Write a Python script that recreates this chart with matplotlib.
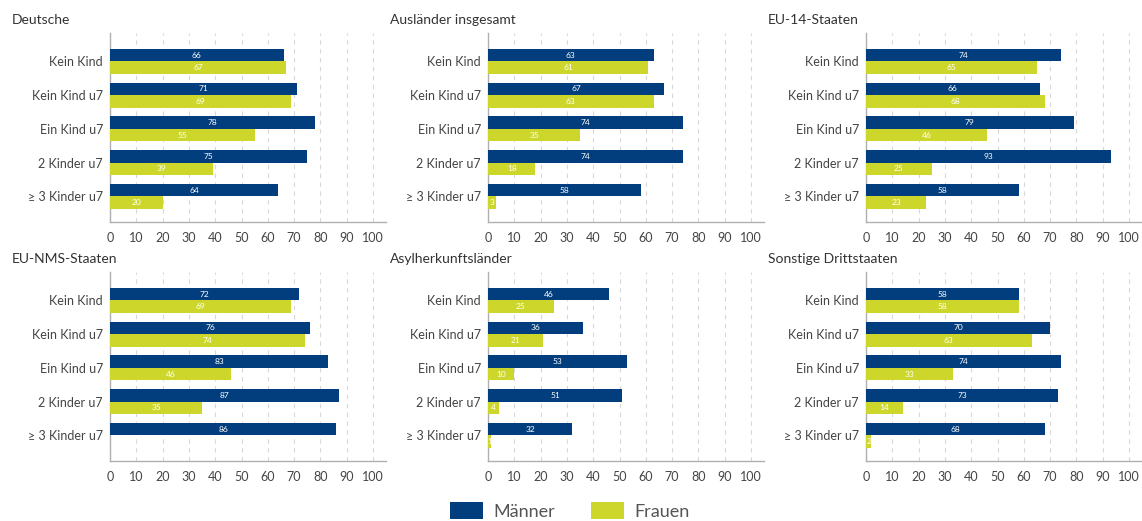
import numpy as np
import matplotlib.pyplot as plt
from matplotlib.patches import Patch

plt.rcParams['font.family'] = ['Lato', 'DejaVu Sans']

categories = ['Kein Kind', 'Kein Kind u7', 'Ein Kind u7', '2 Kinder u7', '\u2265 3 Kinder u7']
panels = ['Deutsche', 'Ausländer insgesamt', 'EU-14-Staaten',
          'EU-NMS-Staaten', 'Asylherkunftsländer', 'Sonstige Drittstaaten']

maenner = [
    [66, 71, 78, 75, 64],
    [63, 67, 74, 74, 58],
    [74, 66, 79, 93, 58],
    [72, 76, 83, 87, 86],
    [46, 36, 53, 51, 32],
    [58, 70, 74, 73, 68],
]
frauen = [
    [67, 69, 55, 39, 20],
    [61, 63, 35, 18, 3],
    [65, 68, 46, 25, 23],
    [69, 74, 46, 35, 0],
    [25, 21, 10, 4, 1],
    [58, 63, 33, 14, 2],
]

BLUE = '#023e7d'
GREEN = '#cdd72b'
GREY = '#444444'

W, H = 1142, 521
fig = plt.figure(figsize=(W / 100, H / 100), dpi=100)

col_left = [110, 488, 866]
row_top = [33, 272]
ax_h = 189
ax_w = 263 * 1.05

y = np.arange(len(categories))
bh = 0.37

for i, name in enumerate(panels):
    r, c = divmod(i, 3)
    left = col_left[c]
    top = row_top[r]
    ax = fig.add_axes([left / W, 1 - (top + ax_h) / H, ax_w / W, ax_h / H])
    m = maenner[i]
    f = frauen[i]
    ax.barh(y - bh / 2, m, height=bh, color=BLUE, zorder=3)
    ax.barh(y + bh / 2, f, height=bh, color=GREEN, zorder=3)
    for k in range(len(categories)):
        ax.text(m[k] / 2, y[k] - bh / 2, str(m[k]), color='white', fontsize=6,
                ha='center', va='center', zorder=4)
        if f[k] > 0:
            ax.text(f[k] / 2, y[k] + bh / 2, str(f[k]), color='white', fontsize=6,
                    ha='center', va='center', zorder=4)
    ax.set_xlim(0, 105)
    ax.set_ylim(4.76, -0.84)
    ax.set_xticks(range(0, 101, 10))
    ax.set_yticks(y)
    ax.set_yticklabels(categories)
    ax.tick_params(length=0, labelsize=9, colors=GREY, pad=5)
    ax.tick_params(axis='x', pad=7)
    ax.grid(axis='x', color='#d8d8d8', linestyle=(0, (4, 4)), linewidth=0.8, zorder=0)
    for s in ['top', 'right']:
        ax.spines[s].set_visible(False)
    for s in ['left', 'bottom']:
        ax.spines[s].set_color('#b0b0b0')
        ax.spines[s].set_linewidth(1)
    fig.text((left - 98) / W, 1 - (top - 13) / H, name, fontsize=10, color='#333333',
             ha='left', va='center')

handles = [Patch(facecolor=BLUE, label='Männer'), Patch(facecolor=GREEN, label='Frauen')]
fig.legend(handles=handles, loc='center', bbox_to_anchor=(570 / W, 1 - 511 / H),
           ncol=2, frameon=False, fontsize=13, handlelength=1.8, handleheight=1.0,
           handletextpad=0.6, columnspacing=2.0, labelcolor='#555555')

fig.savefig('out.png', dpi=100, facecolor='white')
